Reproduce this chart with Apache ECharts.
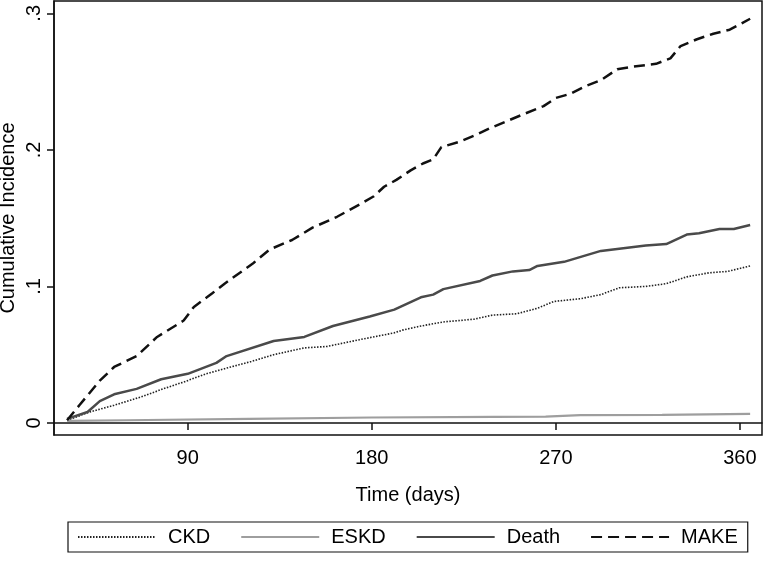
<!DOCTYPE html>
<html>
<head>
<meta charset="utf-8">
<script src="https://cdn.jsdelivr.net/npm/echarts@6/dist/echarts.min.js"></script>
<style>
html,body{margin:0;padding:0;background:#fff;}
#c{width:764px;height:562px;}
</style>
</head>
<body>
<div id="c"></div>
<script>
var xTicks = [90, 180, 270, 360];
var yTicks = [0, 0.1, 0.2, 0.3];
var yTickLabels = ['0', '.1', '.2', '.3'];
var seriesNames = ['CKD', 'ESKD', 'Death', 'MAKE'];

var ckdDays = [31, 42, 54, 67, 78, 88, 99, 111, 121, 132, 147, 158, 174, 191, 195, 204, 215, 230, 239, 251, 261, 269, 282, 292, 301, 314, 324, 334, 345, 354, 365];
var ckdVals = [0.002, 0.008, 0.013, 0.019, 0.025, 0.030, 0.036, 0.041, 0.045, 0.050, 0.055, 0.056, 0.061, 0.066, 0.068, 0.071, 0.074, 0.076, 0.079, 0.080, 0.084, 0.089, 0.091, 0.094, 0.099, 0.100, 0.102, 0.107, 0.110, 0.111, 0.115];

var eskdDays = [31, 60, 120, 180, 240, 265, 282, 322, 365];
var eskdVals = [0.0015, 0.002, 0.003, 0.004, 0.0045, 0.0046, 0.0058, 0.006, 0.0066];

var deathDays = [31, 41, 47, 54, 65, 77, 90, 104, 109, 132, 147, 161, 179, 191, 204, 210, 215, 233, 239, 249, 257, 261, 274, 283, 292, 303, 314, 324, 334, 340, 350, 357, 365];
var deathVals = [0.003, 0.008, 0.016, 0.021, 0.025, 0.032, 0.036, 0.044, 0.049, 0.060, 0.063, 0.071, 0.078, 0.083, 0.092, 0.094, 0.098, 0.104, 0.108, 0.111, 0.112, 0.115, 0.118, 0.122, 0.126, 0.128, 0.130, 0.131, 0.138, 0.139, 0.142, 0.142, 0.145];

var makeDays = [31, 37, 42, 47, 54, 65, 75, 88, 93, 102, 108, 122, 130, 141, 151, 163, 174, 181, 186, 192, 199, 205, 210, 214, 223, 231, 238, 246, 254, 264, 270, 277, 285, 292, 300, 308, 319, 326, 331, 339, 347, 355, 360, 365];
var makeVals = [0.002, 0.013, 0.022, 0.031, 0.041, 0.049, 0.063, 0.075, 0.085, 0.095, 0.102, 0.117, 0.127, 0.134, 0.143, 0.151, 0.160, 0.166, 0.173, 0.178, 0.185, 0.190, 0.193, 0.202, 0.206, 0.211, 0.216, 0.221, 0.226, 0.232, 0.238, 0.241, 0.247, 0.251, 0.259, 0.261, 0.263, 0.267, 0.276, 0.281, 0.285, 0.288, 0.292, 0.296];

function zip(a, b) { return a.map(function (d, i) { return [d, b[i]]; }); }

var FONT = "'Liberation Sans', Arial, Helvetica, sans-serif";
var FS = 20;
var chart = echarts.init(document.getElementById('c'), null, {renderer: 'canvas'});
chart.setOption({
  backgroundColor: '#ffffff',
  animation: false,
  textStyle: {fontFamily: FONT},
  grid: {left: 54, right: 2, top: 1, bottom: 127, containLabel: false, outerBoundsMode: 'none',
         show: true, borderColor: '#111', borderWidth: 1.5, backgroundColor: '#fff'},
  xAxis: {
    type: 'value', min: 24.6, max: 370.8,
    name: 'Time (days)', nameLocation: 'middle', nameGap: 50, nameMoveOverlap: false,
    nameTextStyle: {fontSize: FS, color: '#000', fontFamily: FONT},
    axisLine: {show: true, lineStyle: {color: '#111', width: 1.5}},
    axisTick: {show: true, length: 7, inside: false, customValues: xTicks, lineStyle: {color: '#111', width: 1.5}},
    axisLabel: {customValues: xTicks, fontSize: FS, color: '#000', margin: 13, fontFamily: FONT},
    splitLine: {show: false}
  },
  yAxis: {
    type: 'value', min: -0.0088, max: 0.309,
    name: 'Cumulative Incidence', nameLocation: 'middle', nameGap: 36, nameMoveOverlap: false,
    nameTextStyle: {fontSize: FS, color: '#000', fontFamily: FONT},
    axisLine: {show: true, lineStyle: {color: '#111', width: 1.5}},
    axisTick: {show: true, length: 7, inside: false, customValues: yTicks, lineStyle: {color: '#111', width: 1.5}},
    axisLabel: {customValues: yTicks, rotate: 90, fontSize: FS, color: '#000', margin: 10, fontFamily: FONT,
      formatter: function (v) { var i = yTicks.findIndex(function (t) { return Math.abs(t - v) < 1e-9; }); return i >= 0 ? yTickLabels[i] : ''; }},
    splitLine: {show: false}
  },
  legend: {
    left: 68, top: 522, orient: 'horizontal',
    itemWidth: 78, itemHeight: 14, itemGap: 30,
    padding: [5, 10, 5, 9],
    borderColor: '#111', borderWidth: 1.2,
    itemStyle: {opacity: 0},
    textStyle: {fontSize: FS, color: '#000', fontFamily: FONT, padding: [0, 0, 0, 7]},
    data: seriesNames
  },
  series: [
    {name: seriesNames[0], type: 'line', symbol: 'none', data: zip(ckdDays, ckdVals),
     lineStyle: {color: '#222', width: 1.6, type: [1.5, 1.5]}, itemStyle: {color: '#222'}},
    {name: seriesNames[1], type: 'line', symbol: 'none', data: zip(eskdDays, eskdVals),
     lineStyle: {color: '#9e9e9e', width: 2.2}, itemStyle: {color: '#9e9e9e'}},
    {name: seriesNames[2], type: 'line', symbol: 'none', data: zip(deathDays, deathVals),
     lineStyle: {color: '#4a4a4a', width: 2.5}, itemStyle: {color: '#4a4a4a'}},
    {name: seriesNames[3], type: 'line', symbol: 'none', data: zip(makeDays, makeVals),
     lineStyle: {color: '#111', width: 2.5, type: [11, 6]}, itemStyle: {color: '#111'}}
  ]
});
</script>
</body>
</html>
